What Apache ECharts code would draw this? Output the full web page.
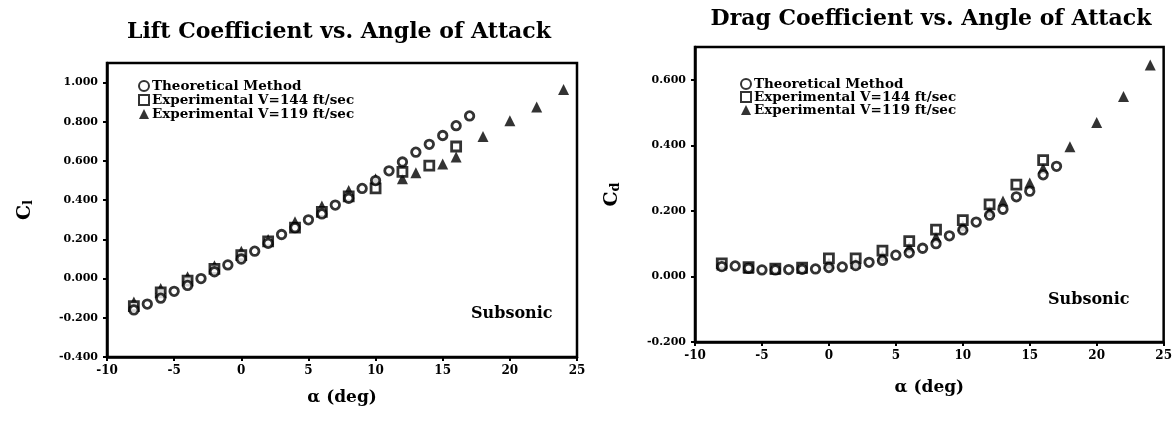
<!DOCTYPE html>
<html>
<head>
<meta charset="utf-8">
<script src="https://cdn.jsdelivr.net/npm/echarts@6/dist/echarts.min.js"></script>
<style>
html,body{margin:0;padding:0;background:#fff;}
#c{width:1175px;height:423px;}
</style>
</head>
<body>
<div id="c"></div>
<script>
// ---- data ----
const titleLift = 'Lift Coefficient vs. Angle of Attack';
const titleDrag = 'Drag Coefficient vs. Angle of Attack';
const legendNames = ['Theoretical Method', 'Experimental V=144 ft/sec', 'Experimental V=119 ft/sec'];
const xTickLabels = ['-10', '-5', '0', '5', '10', '15', '20', '25'];

const alphaTheory = [-8,-7,-6,-5,-4,-3,-2,-1,0,1,2,3,4,5,6,7,8,9,10,11,12,13,14,15,16,17];
const clTheory = [-0.16,-0.13,-0.10,-0.065,-0.035,0.0,0.035,0.07,0.10,0.14,0.18,0.225,0.26,0.30,0.33,0.375,0.41,0.46,0.50,0.55,0.595,0.645,0.685,0.73,0.78,0.83];
const cdTheory = [0.030,0.032,0.025,0.020,0.020,0.021,0.022,0.023,0.027,0.029,0.033,0.043,0.049,0.065,0.072,0.086,0.100,0.124,0.142,0.166,0.187,0.205,0.243,0.260,0.310,0.336];

const alpha144 = [-8,-6,-4,-2,0,2,4,6,8,10,12,14,16];
const cl144 = [-0.14,-0.07,-0.01,0.05,0.12,0.19,0.26,0.34,0.42,0.46,0.545,0.576,0.674];
const cd144 = [0.040,0.028,0.024,0.027,0.055,0.055,0.079,0.108,0.143,0.172,0.220,0.280,0.355];

const alpha119 = [-8,-6,-4,-2,0,2,4,6,8,10,12,13,15,16,18,20,22,24];
const cl119 = [-0.12,-0.05,0.01,0.065,0.14,0.20,0.29,0.37,0.45,0.51,0.51,0.54,0.585,0.62,0.725,0.805,0.875,0.965];
const cd119 = [0.035,0.025,0.022,0.025,0.040,0.040,0.062,0.090,0.120,0.155,0.200,0.230,0.285,0.330,0.396,0.470,0.549,0.645];

// ---- build ----
const FONT = '"DejaVu Serif", "Liberation Serif", serif';
function pairs(xs, ys){ return xs.map((x,i)=>[x, ys[i]]); }

const circleStyle = {color:'#fff', borderColor:'#000', borderWidth:2.8};
const squareStyle = {color:'#fff', borderColor:'#000', borderWidth:2.8};
const triStyle = {color:'#000'};

function seriesFor(idx, th, e144, e119){
  return [
    {name:legendNames[2], type:'scatter', xAxisIndex:idx, yAxisIndex:idx, symbol:'triangle', symbolSize:11, itemStyle:triStyle, data:pairs(alpha119, e119), z:2},
    {name:legendNames[1], type:'scatter', xAxisIndex:idx, yAxisIndex:idx, symbol:'rect', symbolSize:9, itemStyle:squareStyle, data:pairs(alpha144, e144), z:3},
    {name:legendNames[0], type:'scatter', xAxisIndex:idx, yAxisIndex:idx, symbol:'circle', symbolSize:8.5, itemStyle:circleStyle, data:pairs(alphaTheory, th), z:4}
  ];
}

const axisLineStyle = {show:true, onZero:false, lineStyle:{color:'#000', width:2.5}};
function xAxisFor(idx){
  return {
    type:'value', gridIndex:idx, min:-10, max:25, interval:5,
    axisLine:axisLineStyle,
    axisTick:{show:true, length:4, lineStyle:{color:'#000', width:2}},
    splitLine:{show:false},
    axisLabel:{color:'#000', fontFamily:FONT, fontWeight:'bold', fontSize:12, margin:8,
      formatter:(v)=>{ const i = Math.round((v+10)/5); return (Math.abs(v - (-10 + 5*i))<1e-9) ? xTickLabels[i] : ''; }},
    name:'\u03b1 (deg)', nameLocation:'middle', nameGap: idx===0 ? 32 : 37,
    nameTextStyle:{color:'#000', fontFamily:FONT, fontWeight:'bold', fontSize:17}
  };
}
function yAxisFor(idx, min, max, sub, gap){
  return {
    type:'value', gridIndex:idx, min:min, max:max, interval:0.2,
    axisLine:axisLineStyle,
    axisTick:{show:true, length:4, lineStyle:{color:'#000', width:2}},
    splitLine:{show:false},
    axisLabel:{color:'#000', fontFamily:FONT, fontWeight:'bold', fontSize:11, margin:9,
      showMaxLabel:false,
      formatter:(v)=> (Math.abs(v-max)<1e-9 && Math.abs(Math.round(v/0.2)*0.2 - v)>1e-6) ? '' : v.toFixed(3)},
    name:'{a|C}{b|' + sub + '}', nameLocation:'middle', nameGap:gap, nameRotate:90,
    nameTextStyle:{color:'#000', rich:{
      a:{fontFamily:FONT, fontWeight:'bold', fontSize:19, color:'#000'},
      b:{fontFamily:FONT, fontWeight:'bold', fontSize:13, color:'#000', padding:[7,0,0,0]}
    }}
  };
}

const chart = echarts.init(document.getElementById('c'), null, {renderer:'canvas'});
const option = {
  backgroundColor:'#fff',
  animation:false,
  title:[
    {text:titleLift, left:334, top:16, textAlign:'center',
      textStyle:{fontFamily:FONT, fontWeight:'bold', fontSize:22, color:'#000'}},
    {text:titleDrag, left:926, top:3, textAlign:'center',
      textStyle:{fontFamily:FONT, fontWeight:'bold', fontSize:22, color:'#000'}}
  ],
  legend:[
    {orient:'vertical', left:133, top:74, itemGap:0, itemWidth:10, itemHeight:10,
      data:legendNames, seriesIndex:[0,1,2],
      textStyle:{fontFamily:FONT, fontWeight:'bold', fontSize:13.5, lineHeight:14, color:'#000', padding:[0,0,0,-2]}},
    {orient:'vertical', left:735, top:72, itemGap:-1, itemWidth:10, itemHeight:10,
      data:legendNames,
      textStyle:{fontFamily:FONT, fontWeight:'bold', fontSize:13.5, lineHeight:14, color:'#000', padding:[0,0,0,-2]}}
  ],
  grid:[
    {left:107, top:63, width:470, height:294, show:true, borderColor:'#000', borderWidth:2.5, backgroundColor:'transparent'},
    {left:695, top:47, width:473, height:295, show:true, borderColor:'#000', borderWidth:2.5, backgroundColor:'transparent'}
  ],
  xAxis:[xAxisFor(0), xAxisFor(1)],
  yAxis:[yAxisFor(0, -0.4, 1.1, 'l', 72), yAxisFor(1, -0.2, 0.7, 'd', 73)],
  graphic:[
    {type:'text', left:471, top:306, style:{text:'Subsonic', font:'bold 16px ' + FONT, fill:'#000'}},
    {type:'text', left:1048, top:292, style:{text:'Subsonic', font:'bold 16px ' + FONT, fill:'#000'}}
  ],
  series: seriesFor(0, clTheory, cl144, cl119).concat(seriesFor(1, cdTheory, cd144, cd119))
};
chart.setOption(option);
</script>
</body>
</html>
